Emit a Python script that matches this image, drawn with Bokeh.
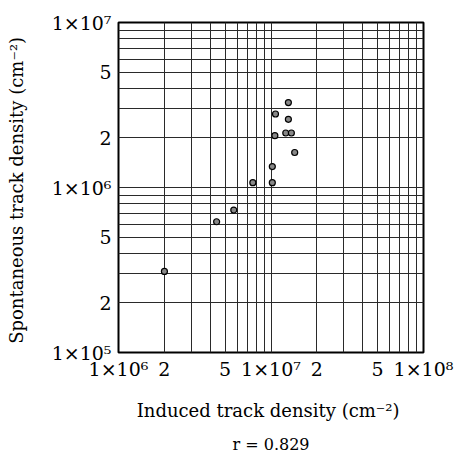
from bokeh.plotting import figure
from bokeh.models import FixedTicker, Title
from bokeh.embed import file_html
from bokeh.resources import INLINE

# Data (cm^-2)
induced = [2.0e6, 4.4e6, 5.7e6, 7.6e6, 1.02e7, 1.02e7, 1.06e7, 1.07e7,
           1.30e7, 1.30e7, 1.25e7, 1.36e7, 1.43e7]
spontaneous = [3.1e5, 6.2e5, 7.3e5, 1.07e6, 1.07e6, 1.34e6, 2.06e6, 2.79e6,
               3.27e6, 2.59e6, 2.14e6, 2.14e6, 1.63e6]
r_text = "r = 0.829"

x_ticks = [1e6, 2e6, 5e6, 1e7, 2e7, 5e7, 1e8]
x_labels = ["1×10⁶", "2", "5", "1×10⁷", "2", "5", "1×10⁸"]
y_ticks = [1e5, 2e5, 5e5, 1e6, 2e6, 5e6, 1e7]
y_labels = ["1×10⁵", "2", "5", "1×10⁶", "2", "5", "1×10⁷"]
x_minor = [k * 10.0 ** d for d in (6, 7) for k in range(1, 10)] + [1e8]
y_minor = [k * 10.0 ** d for d in (5, 6) for k in range(1, 10)] + [1e7]

FONT = "DejaVu Serif"

p = figure(width=465, height=462, x_axis_type="log", y_axis_type="log",
           x_range=(1e6, 1e8), y_range=(1e5, 1e7),
           output_backend="svg", toolbar_location=None,
           min_border_left=118, min_border_right=42,
           min_border_top=22, min_border_bottom=109)

p.xaxis.ticker = FixedTicker(ticks=x_ticks, minor_ticks=x_minor)
p.yaxis.ticker = FixedTicker(ticks=y_ticks, minor_ticks=y_minor)
p.xaxis.major_label_overrides = {t: l for t, l in zip(x_ticks, x_labels)}
p.yaxis.major_label_overrides = {t: l for t, l in zip(y_ticks, y_labels)}

for ax in (p.xaxis, p.yaxis):
    ax.major_tick_line_color = None
    ax.minor_tick_line_color = None
    ax.major_tick_out = 0
    ax.major_tick_in = 0
    ax.minor_tick_out = 0
    ax.minor_tick_in = 0
    ax.axis_line_color = None
    ax.major_label_text_font = FONT
    ax.major_label_text_font_size = "19px"
    ax.major_label_text_color = "black"
    ax.axis_label_text_font = FONT
    ax.axis_label_text_font_size = "18px"
    ax.axis_label_text_font_style = "normal"
    ax.axis_label_text_color = "black"

p.xaxis.axis_label = "Induced track density  (cm⁻²)"
p.yaxis.axis_label = "Spontaneous track density  (cm⁻²)"
p.xaxis.major_label_standoff = 5
p.yaxis.major_label_standoff = 7
p.xaxis.axis_label_standoff = 17
p.yaxis.axis_label_standoff = 22
p.yaxis.major_label_orientation = "horizontal"

for g in (p.xgrid, p.ygrid):
    g.grid_line_color = "#2a2a2a"
    g.grid_line_width = 1
    g.minor_grid_line_color = "#2a2a2a"
    g.minor_grid_line_width = 1

p.outline_line_color = "black"
p.outline_line_width = 2
p.background_fill_color = "white"
p.border_fill_color = "white"

p.scatter(induced, spontaneous, size=6, fill_color="#888888",
          line_color="black", line_width=1.2)

p.add_layout(Title(text=r_text, align="center", text_font=FONT,
                   text_font_size="16px", text_font_style="normal",
                   text_color="black", standoff=18), "below")

open("out.html", "w").write(file_html(p, INLINE))
